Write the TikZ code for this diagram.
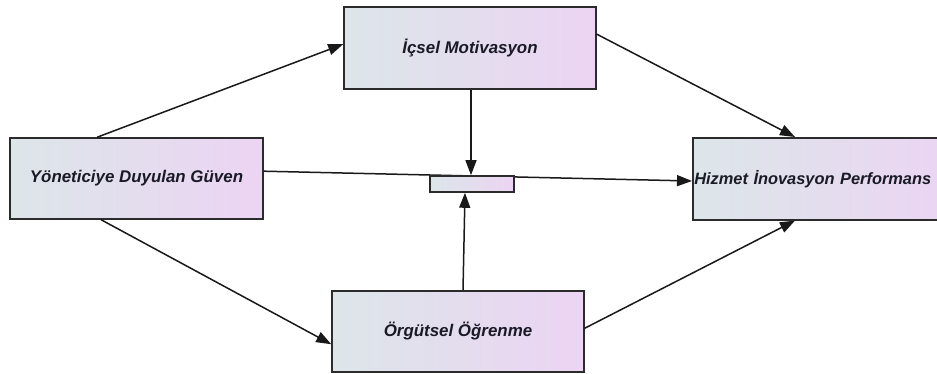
\documentclass[tikz,border=0pt]{standalone}
\usepackage{fontspec}
\setmainfont{Liberation Sans}
\usetikzlibrary{arrows.meta,calc}
\definecolor{lc}{HTML}{DCE6E9}
\definecolor{rc}{HTML}{ECD4F3}
\definecolor{bd}{HTML}{2B2B2B}
\definecolor{tx}{HTML}{1A1A26}
\tikzset{
  box/.style={draw=bd, line width=1.6pt, left color=lc, right color=rc, inner sep=0pt,
    font=\fontsize{16.9}{19}\selectfont\bfseries\itshape, text=tx},
  conn/.style={draw=black!90, line width=1.5pt, -{Triangle[length=15pt,width=11pt]}}
}
\begin{document}
\begin{tikzpicture}[x=1pt,y=-1pt]
\useasboundingbox (0,0) rectangle (937,374);
\node[box, minimum width=253pt, minimum height=81pt] (yon) at (136.5,178.5) {Yöneticiye Duyulan Güven};
\node[box, minimum width=252pt, minimum height=82pt] (ics) at (470,48) {İçsel Motivasyon};
\node[box, minimum width=252pt, minimum height=81pt] (org) at (458,331.5) {Örgütsel Öğrenme};
\node[box, anchor=north west, inner xsep=1.5pt, text width=264pt, align=left, minimum height=82pt,
  font=\fontsize{16.4}{19}\selectfont\bfseries\itshape] (hip) at (692,137) {Hizmet İnovasyon Performans};
\draw[conn] ([yshift=-34pt]yon.north east) -- ([yshift=-44pt]hip.north west);
\node[box, minimum width=84pt, minimum height=16pt] (mod) at (472,184) {};
\draw[conn] ([xshift=88pt]yon.north west) -- ([yshift=-38pt]ics.north west);
\draw[conn] ([xshift=92pt]yon.south west) -- ([yshift=-54pt]org.north west);
\draw[conn] ([xshift=1pt]ics.south) -- ([xshift=-1pt]mod.north);
\draw[conn] ([xshift=5pt]org.north) -- ([xshift=-7pt]mod.south);
\draw[conn] ([yshift=-28pt]ics.north east) -- ([xshift=103pt]hip.north west);
\draw[conn] ([yshift=-38pt]org.north east) -- ([xshift=103pt]hip.south west);
\end{tikzpicture}
\end{document}
